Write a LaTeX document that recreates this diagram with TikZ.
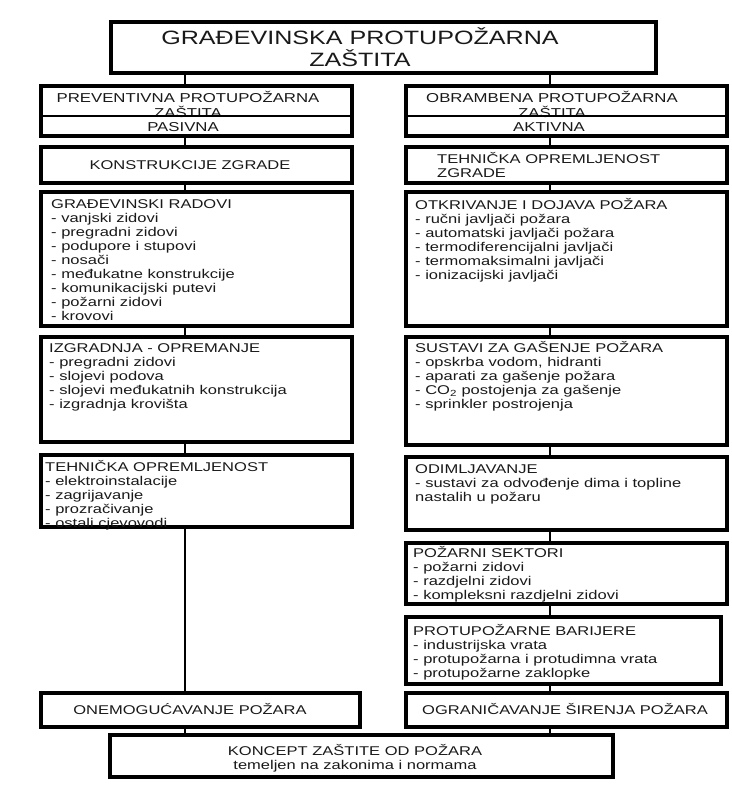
\documentclass[tikz,border=0pt]{standalone}
\usepackage{fontspec}
\setmainfont{Liberation Sans}[FakeStretch=1.3]
\usepackage{tikz}
\setlength{\lineskiplimit}{-\maxdimen}

\begin{document}
\begin{tikzpicture}[x=1pt, y=-1pt,
		panel/.style={draw, line width=4pt, minimum width=311, inner sep=0},
		rpanel/.style={panel, minimum width=321},
		link/.style={line width=2.6pt},
		itemtext/.style={font=\fontsize{12.7}{14}\selectfont, text=black!90, inner sep=0, align=left, anchor=base west},
		headtext/.style={itemtext, align=center, anchor=center}]
		\useasboundingbox (0,0) rectangle (731,789);

		% Columns of the connectors
		\coordinate (lx) at (185,0);
		\coordinate (rx) at (550,0);

		% Title
		\node[panel, minimum width=545, minimum height=51] (title) at (383.5,47.5) {};
		\node[headtext, font=\fontsize{19.3}{22}\selectfont] (titletxt) at (360,47) {GRAĐEVINSKA PROTUPOŽARNA\\ZAŠTITA};

		% Passive and active protection
		\node[panel, minimum height=50] (prev) at (196.5,111) {};
		\node[headtext, font=\fontsize{12.9}{15}\selectfont] (prevtxt) at (188,104.5) {PREVENTIVNA PROTUPOŽARNA\\ZAŠTITA};
		\draw[link] ([yshift=-32]prev.north west) -- ([yshift=-32]prev.north east);
		\node[headtext, font=\fontsize{12.9}{15}\selectfont] (pasiv) at (183,127.5) {PASIVNA};

		\node[rpanel, minimum height=50] (obr) at (566.5,111) {};
		\node[headtext, font=\fontsize{12.9}{15}\selectfont] (obrtxt) at (552,104.5) {OBRAMBENA PROTUPOŽARNA\\ZAŠTITA};
		\draw[link] ([yshift=-32]obr.north west) -- ([yshift=-32]obr.north east);
		\node[headtext, font=\fontsize{12.9}{15}\selectfont] (aktiv) at (549,127.5) {AKTIVNA};

		% Left column (text placed at the baseline of its last line)
		\node[panel, minimum height=36] (konstr) at (196.5,165) {};
		\node[headtext] (konstrtxt) at (190,165) {KONSTRUKCIJE ZGRADE};

		\node[panel, minimum height=134] (gradrad) at (196.5,259) {};
		\node[itemtext] (gradradtxt) at (51,320.6) {GRAĐEVINSKI RADOVI\\- vanjski zidovi\\- pregradni zidovi\\- podupore i stupovi\\- nosači\\- međukatne konstrukcije\\- komunikacijski putevi\\- požarni zidovi\\- krovovi};

		\node[panel, minimum height=105] (izgrad) at (196.5,389.5) {};
		\node[itemtext] (izgradtxt) at (49,408.6) {IZGRADNJA - OPREMANJE\\- pregradni zidovi\\- slojevi podova\\- slojevi međukatnih konstrukcija\\- izgradnja krovišta};

		\node[panel, minimum height=72] (tehop) at (196.5,491) {};
		\node[itemtext] (tehoptxt) at (45,527.6) {TEHNIČKA OPREMLJENOST\\- elektroinstalacije\\- zagrijavanje\\- prozračivanje\\- ostali cjevovodi};

		\node[panel, minimum width=319, minimum height=34] (onemog) at (200.5,710) {};
		\node[headtext] (onemogtxt) at (190,709.5) {ONEMOGUĆAVANJE POŽARA};

		% Right column
		\node[rpanel, minimum height=36] (tehzgr) at (566.5,165) {};
		\node[itemtext] (tehzgrtxt) at (437,177.6) {TEHNIČKA OPREMLJENOST\\ZGRADE};

		\node[rpanel, minimum height=134] (otkriv) at (566.5,259) {};
		\node[itemtext] (otkrivtxt) at (415,279.6) {OTKRIVANJE I DOJAVA POŽARA\\- ručni javljači požara\\- automatski javljači požara\\- termodiferencijalni javljači\\- termomaksimalni javljači\\- ionizacijski javljači};

		\node[rpanel, minimum height=108] (sustavi) at (566.5,391) {};
		\node[itemtext] (sustavitxt) at (415,408.6) {SUSTAVI ZA GAŠENJE POŽARA\\- opskrba vodom, hidranti\\- aparati za gašenje požara\\- CO\textsubscript{2} postojenja za gašenje\\- sprinkler postrojenja};

		\node[rpanel, minimum height=73] (odimlj) at (566.5,493.5) {};
		\node[itemtext] (odimljtxt) at (415,501.6) {ODIMLJAVANJE\\- sustavi za odvođenje dima i topline\\nastalih u požaru};

		\node[rpanel, minimum height=61] (pozsek) at (566.5,573.5) {};
		\node[itemtext] (pozsektxt) at (413,599.6) {POŽARNI SEKTORI\\- požarni zidovi\\- razdjelni zidovi\\- kompleksni razdjelni zidovi};

		\node[panel, minimum width=315, minimum height=67] (barij) at (563.5,650.5) {};
		\node[itemtext] (barijtxt) at (413,677.6) {PROTUPOŽARNE BARIJERE\\- industrijska vrata\\- protupožarna i protudimna vrata\\- protupožarne zaklopke};

		\node[rpanel, minimum height=34] (ogran) at (566.5,710) {};
		\node[headtext] (ogrannodetxt) at (565,709.5) {OGRANIČAVANJE ŠIRENJA POŽARA};

		% Common base
		\node[panel, minimum width=503, minimum height=42] (koncept) at (361.5,756) {};
		\node[headtext] (koncepttxt) at (355,758) {KONCEPT ZAŠTITE OD POŽARA\\temeljen na zakonima i normama};

		% Connectors
		\draw[link] (title.south -| lx) -- (prev.north -| lx);
		\draw[link] (prev.south -| lx) -- (konstr.north -| lx);
		\draw[link] (konstr.south -| lx) -- (gradrad.north -| lx);
		\draw[link] (gradrad.south -| lx) -- (izgrad.north -| lx);
		\draw[link] (izgrad.south -| lx) -- (tehop.north -| lx);
		\draw[link] (tehop.south -| lx) -- (onemog.north -| lx);
		\draw[link] (onemog.south -| lx) -- (koncept.north -| lx);

		\draw[link] (title.south -| rx) -- (obr.north -| rx);
		\draw[link] (obr.south -| rx) -- (tehzgr.north -| rx);
		\draw[link] (tehzgr.south -| rx) -- (otkriv.north -| rx);
		\draw[link] (otkriv.south -| rx) -- (sustavi.north -| rx);
		\draw[link] (sustavi.south -| rx) -- (odimlj.north -| rx);
		\draw[link] (odimlj.south -| rx) -- (pozsek.north -| rx);
		\draw[link] (pozsek.south -| rx) -- (barij.north -| rx);
		\draw[link] (barij.south -| rx) -- (ogran.north -| rx);
		\draw[link] (ogran.south -| rx) -- (koncept.north -| rx);
\end{tikzpicture}
\end{document}
